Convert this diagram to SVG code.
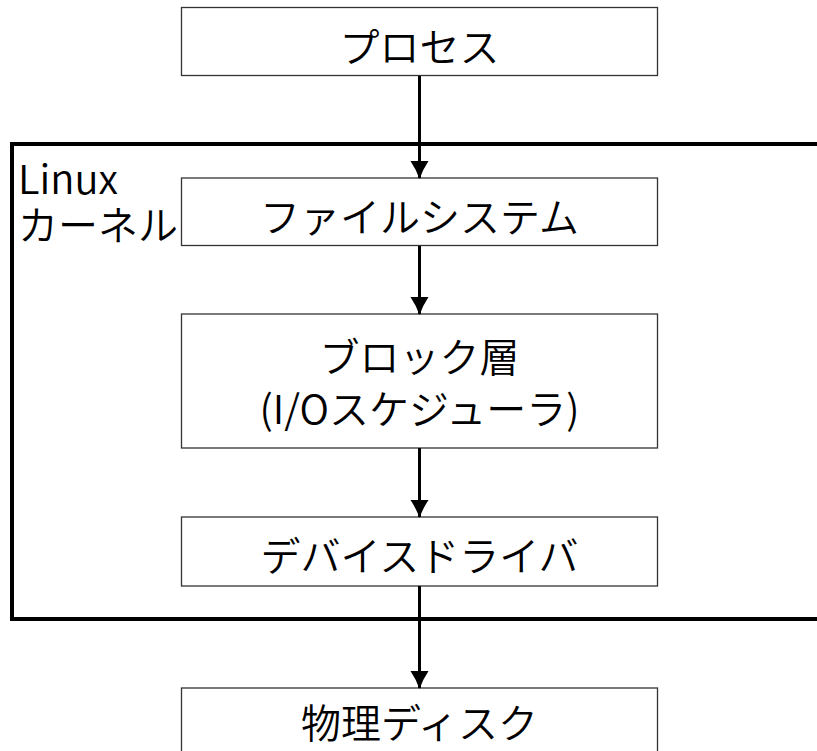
<svg xmlns="http://www.w3.org/2000/svg" width="817" height="751" viewBox="0 0 817 751">
  <defs>
    <marker id="arrow" viewBox="0 0 18 22" refX="17" refY="11" markerWidth="18" markerHeight="22" markerUnits="userSpaceOnUse" orient="auto">
      <path d="M0,2 Q9,8 18,11 Q9,14 0,20 Z" fill="#000"/>
    </marker>
    <style>
      .box { fill: #fff; stroke: #333; stroke-width: 1.3; }
      .kernel { fill: none; stroke: #000; stroke-width: 4; }
      .label { font-family: "Noto Sans CJK JP", sans-serif; font-weight: 350; font-size: 40px; fill: #000; text-anchor: middle; }
      .klabel { font-family: "Noto Sans CJK JP", sans-serif; font-weight: 350; font-size: 40px; fill: #000; }
      .edge { stroke: #000; stroke-width: 3; fill: none; marker-end: url(#arrow); }
    </style>
  </defs>

  <rect width="817" height="751" fill="#fff"/>

  <!-- Linux kernel boundary (open to the right) -->
  <g id="kernel">
    <rect class="kernel" x="12" y="144" width="830" height="475"/>
    <text class="klabel" x="18" y="194">Linux</text>
    <text class="klabel" x="18" y="240">カーネル</text>
  </g>

  <g id="process">
    <rect class="box" x="181.5" y="7.5" width="476" height="68"/>
    <text class="label" x="419.5" y="62">プロセス</text>
  </g>

  <g id="filesystem">
    <rect class="box" x="181.5" y="178" width="476" height="67.5"/>
    <text class="label" x="419.5" y="232">ファイルシステム</text>
  </g>

  <g id="block">
    <rect class="box" x="181.5" y="314" width="476" height="134"/>
    <text class="label" x="419.5" y="372">ブロック層</text>
    <text class="label" x="419.5" y="424">(I/Oスケジューラ)</text>
  </g>

  <g id="driver">
    <rect class="box" x="181.5" y="517" width="476" height="69"/>
    <text class="label" x="419.5" y="571">デバイスドライバ</text>
  </g>

  <g id="disk">
    <rect class="box" x="181.5" y="688" width="476" height="80"/>
    <text class="label" x="419.5" y="738">物理ディスク</text>
  </g>

  <g id="connectors">
    <line class="edge" x1="419.5" y1="76" x2="419.5" y2="178"/>
    <line class="edge" x1="419.5" y1="246" x2="419.5" y2="314"/>
    <line class="edge" x1="419.5" y1="448" x2="419.5" y2="517"/>
    <line class="edge" x1="419.5" y1="586" x2="419.5" y2="688"/>
  </g>
</svg>
